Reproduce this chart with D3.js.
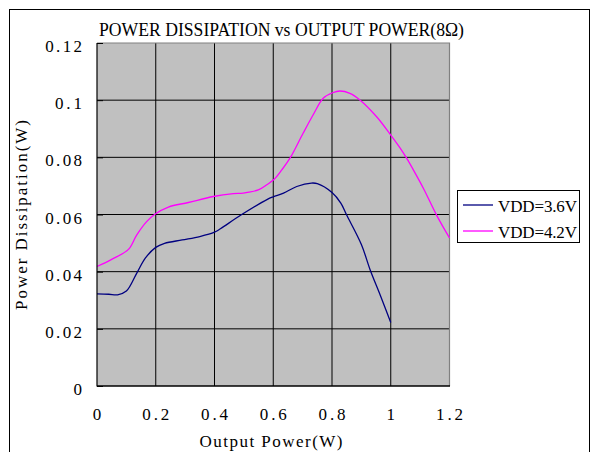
<!DOCTYPE html>
<html>
<head>
<meta charset="utf-8">
<script src="https://cdn.jsdelivr.net/npm/d3@7"></script>
<style>
  html, body { margin: 0; padding: 0; background: #fff; }
  svg { display: block; }
  text { font-family: "Liberation Serif", "DejaVu Serif", serif; font-size: 17px; fill: #000; }
</style>
</head>
<body>
<svg id="chart" width="596" height="452"></svg>
<script>
// ---- data ----
const seriesNames = ["VDD=3.6V", "VDD=4.2V"];
const xTicks = [0, 0.2, 0.4, 0.6, 0.8, 1, 1.2];
const yTicks = [0, 0.02, 0.04, 0.06, 0.08, 0.1, 0.12];
const xTickLabels = ["0", "0.2", "0.4", "0.6", "0.8", "1", "1.2"];
const yTickLabels = ["0", "0.02", "0.04", "0.06", "0.08", "0.1", "0.12"];

const vdd36 = [
  [0, 0.0322], [0.04, 0.0321], [0.07, 0.0319], [0.1, 0.0332], [0.135, 0.0394],
  [0.165, 0.0448], [0.2, 0.0485], [0.23, 0.0499], [0.29, 0.0511], [0.35, 0.0523],
  [0.40, 0.0538], [0.42, 0.0550], [0.49, 0.0598], [0.58, 0.0653], [0.60, 0.0662],
  [0.635, 0.0675], [0.68, 0.0698], [0.73, 0.0710], [0.75, 0.0708], [0.80, 0.0677],
  [0.83, 0.0640], [0.85, 0.0598], [0.90, 0.0495], [0.93, 0.0406], [0.965, 0.0316],
  [1.0, 0.0222]
];
const vdd42 = [
  [0, 0.0418], [0.05, 0.0443], [0.107, 0.0478], [0.135, 0.0528], [0.169, 0.0575],
  [0.197, 0.0601], [0.243, 0.0626], [0.311, 0.0642], [0.396, 0.0663], [0.464, 0.0673],
  [0.498, 0.0675], [0.549, 0.0686], [0.578, 0.0704], [0.603, 0.0723], [0.629, 0.0756],
  [0.657, 0.0797], [0.702, 0.0885], [0.736, 0.0949], [0.770, 0.1007], [0.802, 0.1026],
  [0.827, 0.1032], [0.861, 0.1024], [0.895, 0.1001], [0.952, 0.0942], [1.0, 0.0878],
  [1.031, 0.0834], [1.054, 0.0797], [1.077, 0.0756], [1.111, 0.0692], [1.156, 0.0598],
  [1.2, 0.0518]
];
const seriesData = [vdd36, vdd42];
const colors = ["#000080", "#FF00FF"];

// ---- layout ----
const CW = 9.7; // monospaced cell width of the original font
function mono(sel) {
  sel.each(function() {
    const t = d3.select(this);
    const n = t.text().length;
    if (n > 1) t.attr("textLength", n * CW - 2).attr("lengthAdjust", "spacing");
  });
  return sel;
}

const svg = d3.select("#chart");
const L = 97, R = 449.5, T = 43, B = 386;
const x = d3.scaleLinear().domain([0, 1.2]).range([L, R]);
const y = d3.scaleLinear().domain([0, 0.12]).range([B, T]);

// outer frame
svg.append("rect").attr("x", 9.5).attr("y", 9.5).attr("width", 580).attr("height", 460)
  .attr("fill", "none").attr("stroke", "#000").attr("stroke-width", 1);

// plot background
svg.append("rect").attr("x", L).attr("y", T).attr("width", R - L).attr("height", B - T)
  .attr("fill", "#C0C0C0");

// grid
const g = svg.append("g");
g.selectAll("line.h").data(yTicks.slice(1, -1)).join("line")
  .attr("x1", L).attr("x2", R).attr("y1", d => y(d)).attr("y2", d => y(d))
  .attr("stroke", "#000").attr("stroke-width", 1);
g.selectAll("line.v").data(xTicks.slice(1, -1)).join("line")
  .attr("y1", T).attr("y2", B).attr("x1", d => x(d)).attr("x2", d => x(d))
  .attr("stroke", "#000").attr("stroke-width", 1);

// top/right border gray
svg.append("path").attr("d", `M${L},${T}H${R}V${B}`).attr("fill", "none")
  .attr("stroke", "#808080").attr("stroke-width", 1.2);

// series
const line = d3.line().x(d => x(d[0])).y(d => y(d[1])).curve(d3.curveCatmullRom.alpha(0.5));
svg.selectAll("path.series").data(seriesData).join("path")
  .attr("class", "series")
  .attr("d", d => line(d)).attr("fill", "none")
  .attr("stroke", (d, i) => colors[i]).attr("stroke-width", 1.3);

// axes
const yAxis = d3.axisRight(y).tickValues(yTicks).tickSize(6).tickFormat("");
svg.append("g").attr("transform", `translate(${L},0)`).call(yAxis)
  .call(s => s.select(".domain").remove())
  .call(s => s.selectAll("line").attr("stroke", "#000"));
svg.append("line").attr("x1", L).attr("x2", L).attr("y1", T).attr("y2", B + 0.5)
  .attr("stroke", "#000").attr("stroke-width", 1.2);
svg.append("line").attr("x1", L).attr("x2", R + 0.5).attr("y1", B).attr("y2", B)
  .attr("stroke", "#000").attr("stroke-width", 1.5);

// tick labels
svg.selectAll("text.yt").data(yTicks).join("text")
  .attr("x", 82).attr("y", d => y(d) + 9).attr("text-anchor", "end")
  .text((d, i) => yTickLabels[i]).call(mono);
svg.selectAll("text.xt").data(xTicks).join("text")
  .attr("x", d => x(d)).attr("y", 420).attr("text-anchor", "middle")
  .text((d, i) => xTickLabels[i]).call(mono);

// title and axis labels
svg.append("text").attr("x", 99).attr("y", 36).style("font-size", "18px")
  .text("POWER DISSIPATION vs OUTPUT POWER(8Ω)")
  .attr("textLength", 365).attr("lengthAdjust", "spacingAndGlyphs");
svg.append("text").attr("x", 271).attr("y", 447).attr("text-anchor", "middle")
  .text("Output Power(W)").attr("textLength", 143).attr("lengthAdjust", "spacing");
svg.append("text").attr("transform", "translate(27,215) rotate(-90)").attr("text-anchor", "middle")
  .text("Power Dissipation(W)").attr("textLength", 190).attr("lengthAdjust", "spacing");

// legend
const lg = svg.append("g");
lg.append("rect").attr("x", 457.5).attr("y", 190.5).attr("width", 122).attr("height", 52)
  .attr("fill", "#fff").attr("stroke", "#000");
seriesNames.forEach((name, i) => {
  const yy = 205 + i * 26;
  lg.append("line").attr("x1", 463).attr("x2", 493).attr("y1", yy).attr("y2", yy)
    .attr("stroke", colors[i]).attr("stroke-width", 1.3);
  lg.append("text").attr("x", 498).attr("y", yy + 7).text(name)
    .attr("textLength", 79).attr("lengthAdjust", "spacing");
});
</script>
</body>
</html>
